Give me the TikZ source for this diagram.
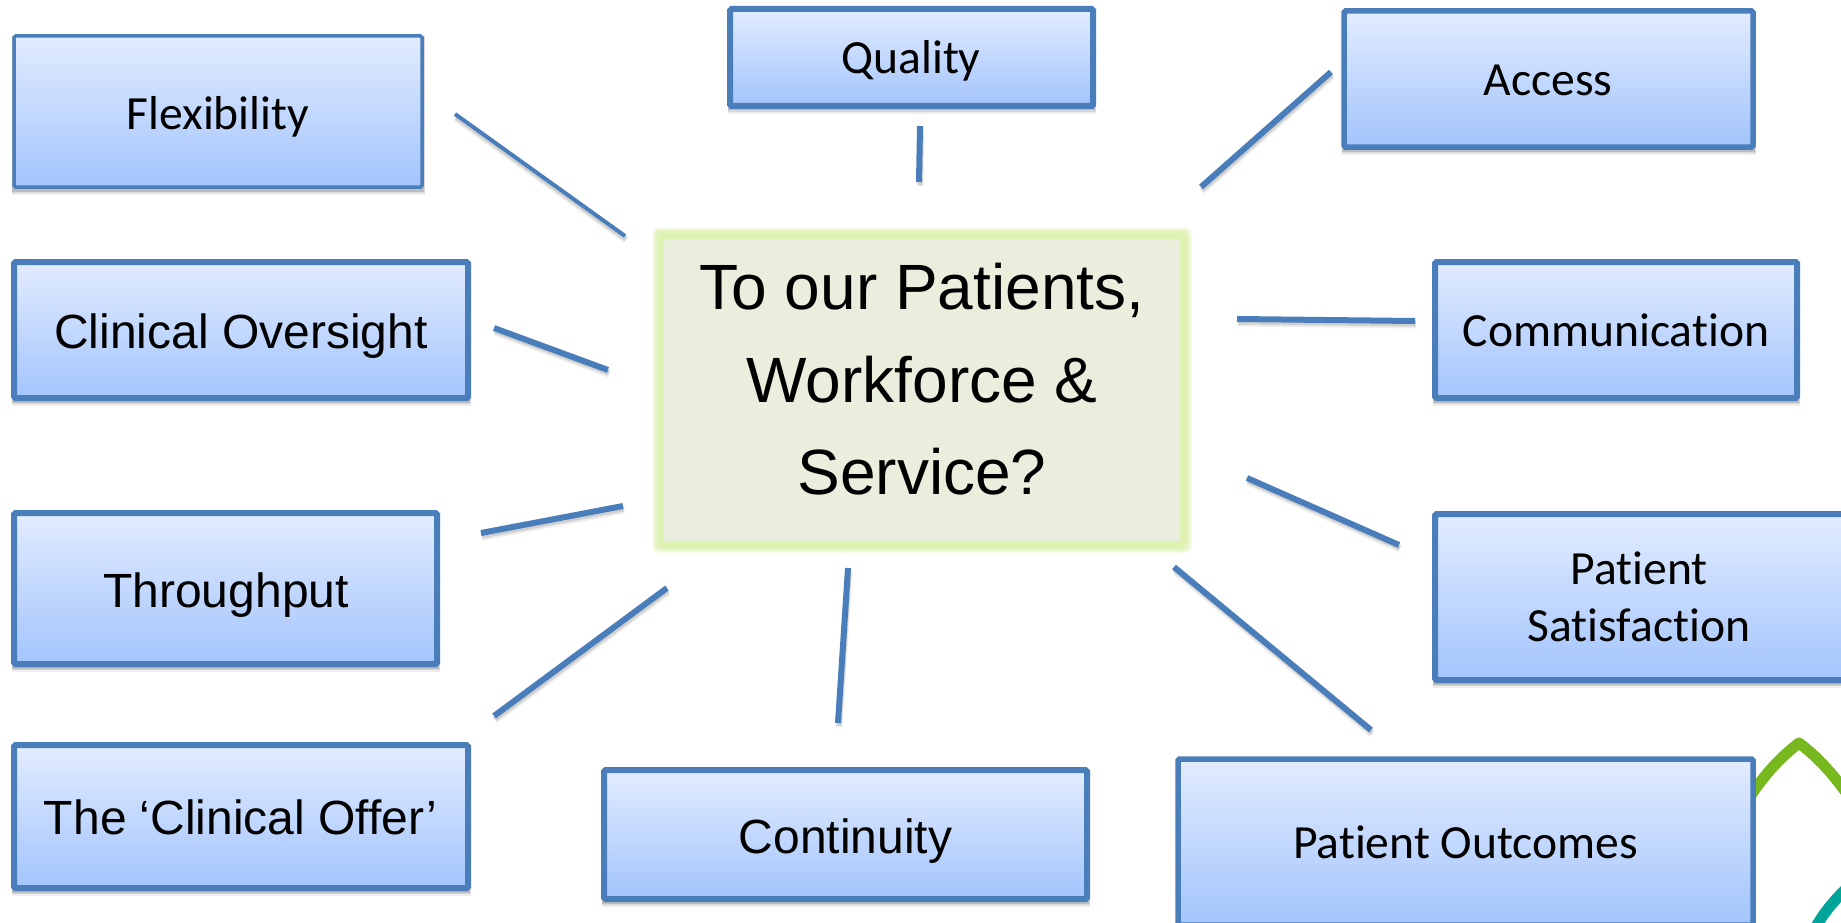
\documentclass[tikz,border=0pt]{standalone}
\usepackage{fontspec}
\setmainfont[Ligatures=NoCommon]{Carlito}
\newfontfamily\arialf{Liberation Sans}
\definecolor{boxedge}{HTML}{4A7EBB}
\definecolor{boxtop}{HTML}{E2ECFF}
\definecolor{boxmid}{HTML}{C4D8FD}
\definecolor{boxbot}{HTML}{A3C4FC}
\definecolor{coreF}{HTML}{EAEFDD}
\definecolor{glowA}{HTML}{DEF2B2}
\definecolor{leafg}{HTML}{76B81E}
\definecolor{leaft}{HTML}{00A499}
\tikzset{
  x=1pt,y=-1pt,
  box/.style={draw=boxedge,rounded corners=1.5pt,top color=boxtop,middle color=boxmid,bottom color=boxbot,
     inner sep=0pt,outer sep=0pt,anchor=north west},
  boxtext/.style={anchor=base,inner sep=0pt,align=center,text=black,font=\fontsize{47.6}{58}\selectfont},
  arialtext/.style={anchor=base,inner sep=0pt,align=center,text=black,font=\arialf\fontsize{48}{58}\selectfont},
  coretext/.style={anchor=base,inner sep=0pt,text=black,font=\arialf\fontsize{64}{92}\selectfont},
  spoke/.style={draw=boxedge,line width=6pt},
  thinspoke/.style={draw=boxedge,line width=4pt},
}
\newcommand{\shadowbox}[4]{%
  \fill[black,opacity=.07] (#1-2,#2) rectangle (#3+3,#4+8);
  \fill[black,opacity=.09] (#1-2,#2) rectangle (#3+2.5,#4+6);
  \fill[black,opacity=.12] (#1-2,#2) rectangle (#3+2,#4+4.5);}
\newcommand{\bx}[6]{%
  \shadowbox{#2}{#3}{#4}{#5}
  \node[box,line width=#6pt,minimum width={(#4-#2)*1pt},minimum height={(#5-#3)*1pt}] (#1) at (#2,#3) {};}
\newcommand{\spk}[4][spoke]{%
  \coordinate (#2a) at (#3); \coordinate (#2b) at (#4);
  \draw[black,opacity=.07,line width=7pt] ([shift={(1,4)}]#2a) -- ([shift={(1,4)}]#2b);
  \draw[black,opacity=.12,line width=5pt] ([shift={(1,3)}]#2a) -- ([shift={(1,3)}]#2b);
  \draw[#1] (#2a) -- (#2b);}
\begin{document}
\begin{tikzpicture}
\useasboundingbox (0,0) rectangle (1841,923);
\fill[white] (0,0) rectangle (1841,923);
% leaf shapes
\draw[leafg,line width=11pt,line join=round] (1746,803) .. controls (1760,780) and (1778,759) .. (1799,743) .. controls (1815,755) and (1832,772) .. (1850,798);
\draw[leaft,line width=11pt] (1813,932) .. controls (1822,915) and (1833,901) .. (1850,885);
% centre
\foreach \e in {11.5,10.5,9.5,8.5,7.5,6.5}{
  \fill[glowA,opacity=.3,rounded corners=6pt] (664-\e,239-\e) rectangle (1180+\e,541+\e);}
\fill[glowA,rounded corners=3pt] (664-5.5,239-5.5) rectangle (1180+5.5,541+5.5);
\node[fill=coreF,inner sep=0pt,outer sep=0pt,minimum width=516pt,minimum height=302pt,anchor=north west] (core) at (664,239) {};
\node[coretext] (coreA) at (922,309) {To our Patients,};
\node[coretext] (coreB) at (922,402) {Workforce \&};
\node[coretext] (coreC) at (922,494) {Service?};
% boxes
\bx{flex}{14}{36}{422}{187}{3.5}
\node[boxtext] (flext) at (218,129) {Flexibility};
\bx{qual}{730}{9}{1093}{106}{6}
\node[boxtext] (qualt) at (911,74) {Quality};
\bx{acc}{1344}{11}{1753}{147}{5.5}
\node[boxtext] (acct) at (1548,96) {Access};
\bx{clin}{14}{262}{468}{398}{6}
\node[arialtext] (clint) at (241,348) {Clinical Oversight};
\bx{comm}{1435}{262}{1797}{398}{6}
\node[boxtext] (commt) at (1616,346) {Communication};
\bx{thru}{14}{513}{437}{664}{6}
\node[arialtext] (thrut) at (226,607) {Throughput};
\bx{sat}{1435}{514}{1856}{680}{6}
\node[boxtext] (satt) at (1639,584) {Patient};
\node[boxtext] (sattb) at (1639,641) {Satisfaction};
\bx{offer}{14}{745}{468}{888}{6}
\node[arialtext] (offert) at (240.5,834) {The ‘Clinical Offer’};
\bx{cont}{604}{770}{1087}{899}{6}
\node[arialtext] (contt) at (845.5,853) {Continuity};
\bx{out}{1178}{759}{1753}{925}{5.5}
\node[boxtext] (outt) at (1465.5,858) {Patient Outcomes};
% spokes
\spk[thinspoke]{s1}{455,114}{625,236}
\spk{s2}{920,126}{919,182}
\spk{s3}{1331,72}{1201,187}
\spk{s4}{494,328}{608,370}
\spk{s5}{1237,319}{1415,321}
\spk{s6}{481,533}{623,506}
\spk{s7}{1247,478}{1399,545}
\spk{s8}{667,588}{494,716}
\spk{s9}{848,568}{838,723}
\spk{s10}{1174,567}{1371,730}
\end{tikzpicture}
\end{document}
